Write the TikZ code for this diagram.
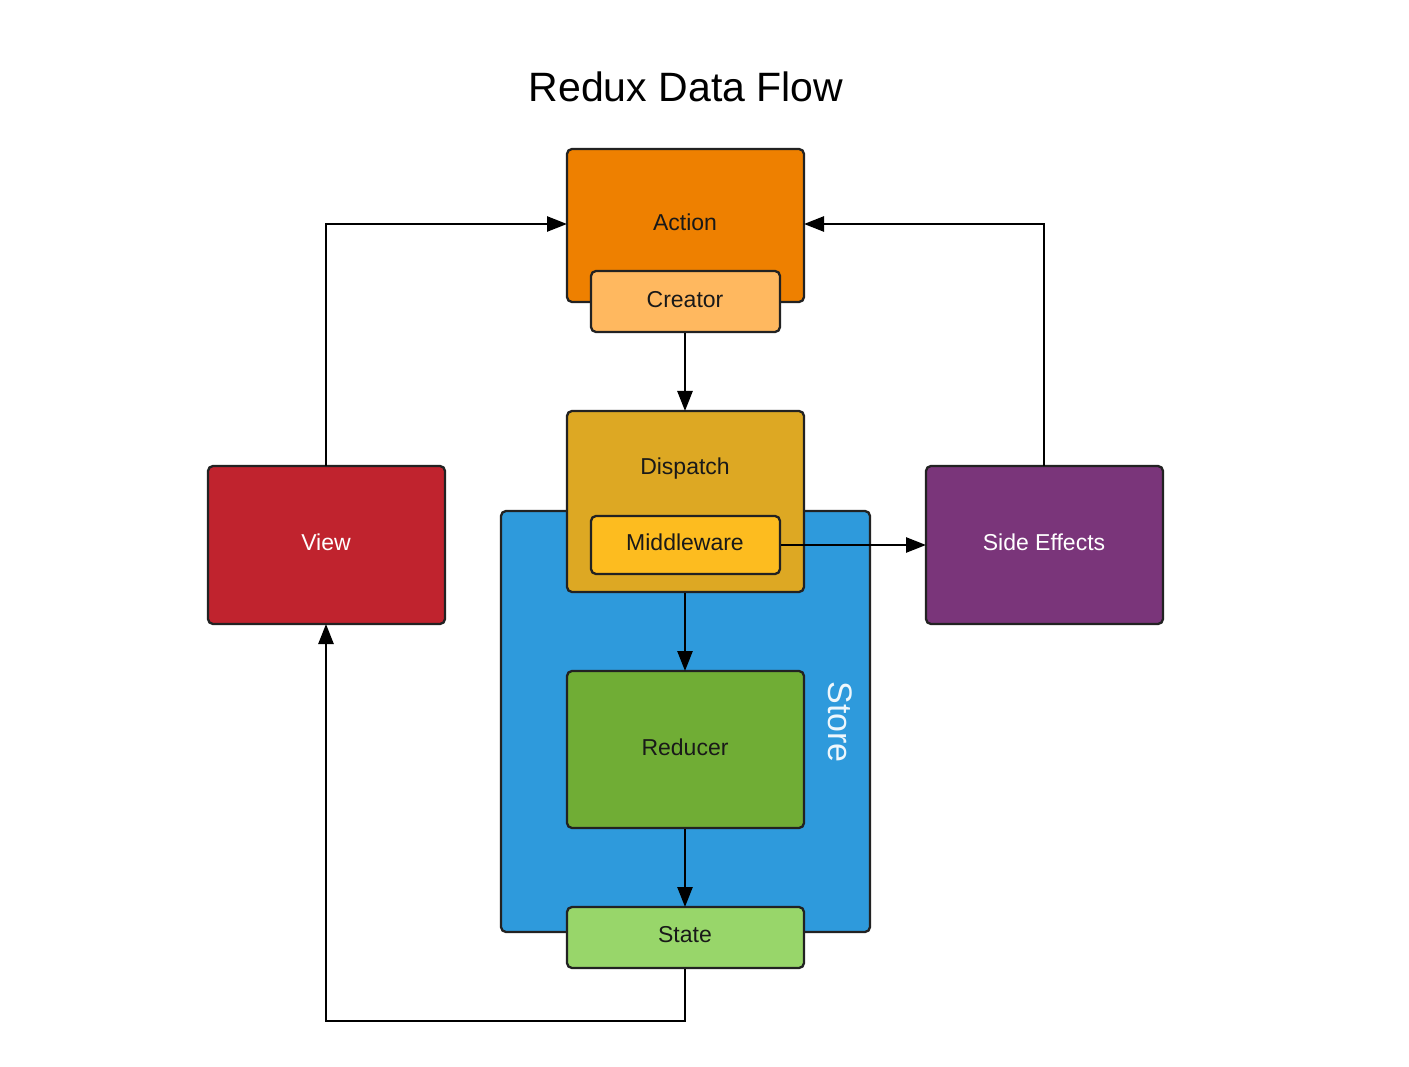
\documentclass[tikz,border=0pt]{standalone}
\usepackage{fontspec}
\setmainfont{Liberation Sans}
\usetikzlibrary{arrows.meta}
\definecolor{actionc}{HTML}{EE8000}
\definecolor{creatorc}{HTML}{FFB85F}
\definecolor{dispatchc}{HTML}{DDA823}
\definecolor{middlec}{HTML}{FDBC1F}
\definecolor{storec}{HTML}{2E9ADC}
\definecolor{reducerc}{HTML}{70AD35}
\definecolor{statec}{HTML}{98D66A}
\definecolor{viewc}{HTML}{C0232E}
\definecolor{sidec}{HTML}{7A357A}
\definecolor{edgec}{HTML}{222222}
\begin{document}
\begin{tikzpicture}[x=1pt,y=-1pt,
  box/.style={draw=edgec,line width=2.3pt,rounded corners=5pt},
  lbl/.style={font=\fontsize{23}{28}\selectfont,text=black!90,inner sep=0pt},
  wlbl/.style={font=\fontsize{23}{28}\selectfont,text=white,inner sep=0pt},
  conn/.style={line width=2.6pt,draw=black,-{Triangle[length=20pt,width=15pt]}}]
\useasboundingbox (0,0) rectangle (1409,1067);
\fill[white] (0,0) rectangle (1409,1067);
% title
\node[font=\fontsize{41}{48}\selectfont,inner sep=0pt] (title) at (686,87) {Redux Data Flow};
% store
\draw[box,fill=storec] (501,511) rectangle (870,932);
\node[font=\fontsize{34}{40}\selectfont,text=white!92!storec,rotate=-90,inner sep=0pt] (storelbl) at (840,722) {Store};
% action + creator
\draw[box,fill=actionc] (567,149) rectangle (804,302);
\node[lbl] (actionlbl) at (685,222) {Action};
\draw[box,fill=creatorc] (591,271) rectangle (780,332);
\node[lbl] (creatorlbl) at (685,300) {Creator};
% dispatch + middleware
\draw[box,fill=dispatchc] (567,411) rectangle (804,592);
\node[lbl] (dispatchlbl) at (685,469) {Dispatch};
\draw[box,fill=middlec] (591,516) rectangle (780,574);
\node[lbl] (middlelbl) at (685,542) {Middleware};
% reducer, state
\draw[box,fill=reducerc] (567,671) rectangle (804,828);
\node[lbl] (reducerlbl) at (685,747) {Reducer};
\draw[box,fill=statec] (567,907) rectangle (804,968);
\node[lbl] (statelbl) at (685,935) {State};
% view, side effects
\draw[box,fill=viewc] (208,466) rectangle (445,624);
\node[wlbl] (viewlbl) at (326,542) {View};
\draw[box,fill=sidec] (926,466) rectangle (1163,624);
\node[wlbl] (sidelbl) at (1044,542) {Side Effects};
% named anchor coordinates
\coordinate (actionL) at (567,224);
\coordinate (actionR) at (804,224);
\coordinate (creatorB) at (685,333);
\coordinate (dispatchT) at (685,411);
\coordinate (dispatchB) at (685,593);
\coordinate (middleR) at (781,545);
\coordinate (sideL) at (926,545);
\coordinate (sideT) at (1044,466);
\coordinate (viewT) at (326,466);
\coordinate (viewB) at (326,624);
\coordinate (reducerT) at (685,671);
\coordinate (reducerB) at (685,829);
\coordinate (stateT) at (685,907);
\coordinate (stateB) at (685,969);
\coordinate (bendR) at (685,1021);
\coordinate (bendL) at (326,1021);
% connectors
\draw[conn] (viewT) |- (actionL);
\draw[conn] (sideT) |- (actionR);
\draw[conn] (creatorB) -- (dispatchT);
\draw[conn] (middleR) -- (sideL);
\draw[conn] (dispatchB) -- (reducerT);
\draw[conn] (reducerB) -- (stateT);
\draw[conn] (stateB) -- (bendR) -- (bendL) -- (viewB);
\end{tikzpicture}
\end{document}
